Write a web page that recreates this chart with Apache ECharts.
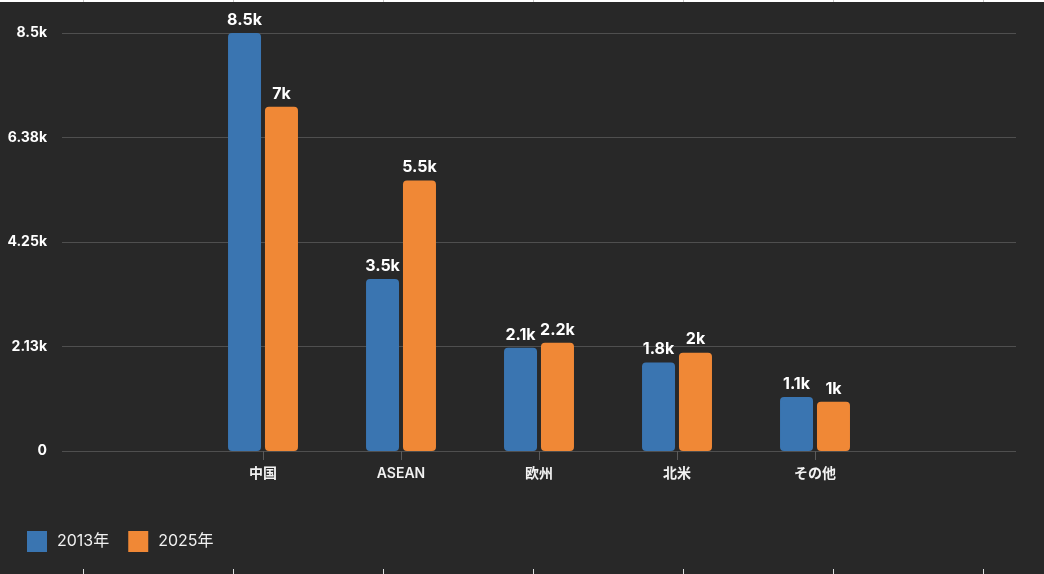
<!DOCTYPE html>
<html>
<head>
<meta charset="utf-8">
<style>
html,body{margin:0;padding:0;background:#282828;}
#chart{width:1044px;height:574px;}
</style>
<script src="https://cdn.jsdelivr.net/npm/echarts@6/dist/echarts.min.js"></script>
</head>
<body>
<div id="chart"></div>
<script>
const categories = ['中国', 'ASEAN', '欧州', '北米', 'その他'];
const seriesNames = ['2013年', '2025年'];
const values2013 = [8500, 3500, 2100, 1800, 1100];
const values2025 = [7000, 5500, 2200, 2000, 1000];
const yMax = 8500;
const yInterval = 2125;

const FONT = 'Inter, "Noto Sans CJK JP", sans-serif';
function kFmt(v) {
  if (v === 0) return '0';
  return parseFloat((v / 1000).toFixed(2)) + 'k';
}

const chart = echarts.init(document.getElementById('chart'));
const decor = [];
decor.push({type:'rect', shape:{x:0,y:0,width:1044,height:2}, style:{fill:'#ffffff'}, silent:true});
for (let x = 83; x < 1044; x += 150) {
  decor.push({type:'line', shape:{x1:x+0.5,y1:0,x2:x+0.5,y2:2}, style:{stroke:'#c8c8c8',lineWidth:1}, silent:true});
  decor.push({type:'line', shape:{x1:x+0.5,y1:569,x2:x+0.5,y2:574}, style:{stroke:'#e0e0e0',lineWidth:1}, silent:true});
}

const labelStyle = {show: true, position: 'top', distance: 5, color: '#ffffff', fontSize: 16, fontWeight: 'bold', fontFamily: FONT, formatter: p => kFmt(p.value)};

chart.setOption({
  backgroundColor: '#282828',
  animation: false,
  textStyle: {fontFamily: FONT},
  graphic: decor,
  legend: {
    left: 27,
    top: 531,
    padding: 0,
    itemWidth: 20,
    itemHeight: 21,
    itemGap: 19,
    icon: 'rect',
    data: seriesNames,
    textStyle: {color: '#f0f0f0', fontSize: 16, fontFamily: FONT, padding: [0, 0, 0, 5]}
  },
  grid: [
    {left: 62, right: 28, top: 33, bottom: 123},
    {left: 194, right: 160, top: 33, bottom: 123}
  ],
  xAxis: [
    {type: 'category', gridIndex: 0, data: categories, show: false},
    {
      type: 'category', gridIndex: 1, data: categories,
      axisLine: {show: true, lineStyle: {color: '#4f4f4f', width: 1}},
      axisTick: {show: true, alignWithLabel: true, length: 9, lineStyle: {color: '#5a5a5a'}},
      axisLabel: {color: '#f2f2f2', fontSize: 14, fontWeight: 600, margin: 16, fontFamily: FONT}
    }
  ],
  yAxis: [
    {
      type: 'value', gridIndex: 0, min: 0, max: yMax, interval: yInterval,
      axisLine: {show: false}, axisTick: {show: false},
      splitLine: {show: true, lineStyle: {color: '#4f4f4f', width: 1}},
      axisLabel: {color: '#ffffff', fontSize: 14, fontWeight: 'bold', margin: 15, formatter: kFmt, fontFamily: FONT}
    },
    {type: 'value', gridIndex: 1, min: 0, max: yMax, interval: yInterval, show: false, splitLine: {show: false}}
  ],
  series: [
    {
      name: seriesNames[0], type: 'bar', xAxisIndex: 1, yAxisIndex: 1,
      data: values2013, barWidth: 33, barGap: '12%',
      itemStyle: {color: '#3a75b1', borderRadius: 4},
      label: labelStyle
    },
    {
      name: seriesNames[1], type: 'bar', xAxisIndex: 1, yAxisIndex: 1,
      data: values2025, barWidth: 33, barGap: '12%',
      itemStyle: {color: '#f08836', borderRadius: 4},
      label: labelStyle
    }
  ]
});
</script>
</body>
</html>
